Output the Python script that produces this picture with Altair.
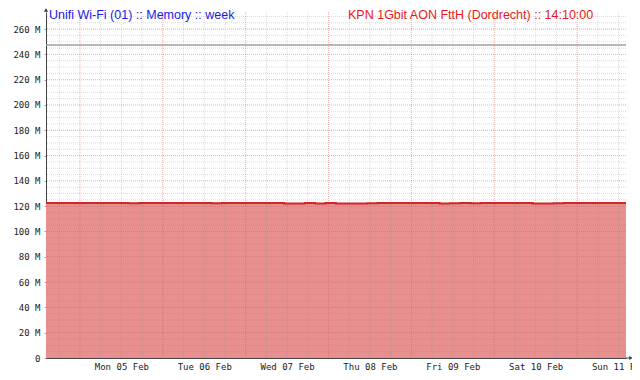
import altair as alt
import pandas as pd

# ---- data ----
title_left = "Unifi Wi-Fi (01) :: Memory :: week"
title_right = "KPN 1Gbit AON FttH (Dordrecht) ::  14:10:00"

start = "2024-02-04T14:10:00"
end = "2024-02-11T14:10:00"

# memory used (M), sampled every 3 hours from start
mem_used = [
    122.5, 122.5, 122.5, 122.5, 122.5, 122.5, 122.5, 122.5, 122.3, 122.5,
    122.5, 122.5, 122.5, 122.5, 122.5, 122.5, 122.3, 122.5, 122.5, 122.5,
    122.5, 122.5, 122.5, 122.1, 122.2, 122.5, 122.2, 122.5, 122.1, 122.2,
    122.1, 122.3, 122.5, 122.5, 122.5, 122.5, 122.5, 122.5, 122.2, 122.3,
    122.5, 122.3, 122.5, 122.5, 122.5, 122.5, 122.5, 122.2, 122.1, 122.3,
    122.5, 122.5, 122.5, 122.5, 122.5, 122.5, 122.5,
]
mem_total = [247.4]

day_labels = ["2024-02-05T12:00:00", "2024-02-06T12:00:00", "2024-02-07T12:00:00",
              "2024-02-08T12:00:00", "2024-02-09T12:00:00", "2024-02-10T12:00:00",
              "2024-02-11T12:00:00"]
day_major = ["2024-02-05", "2024-02-06", "2024-02-07", "2024-02-08",
             "2024-02-09", "2024-02-10", "2024-02-11"]
y_major = [0, 20, 40, 60, 80, 100, 120, 140, 160, 180, 200, 220, 240, 260]
y_minor = list(range(5, 275, 5))
y_top = 273.5

# ---- helpers ----
def ms(s):
    return int(pd.Timestamp(s, tz="UTC").value // 10**6)

t0, t1 = ms(start), ms(end)
times = [t0 + i * 3 * 3600 * 1000 for i in range(len(mem_used))]
df = pd.DataFrame({"t": times, "v": mem_used})
x_minor = list(range(ms("2024-02-04T18:00:00"), t1, 6 * 3600 * 1000))
x_major = [ms(d) for d in day_major]
label_vals = [ms(d) for d in day_labels]

xscale = alt.Scale(type="utc", domain=[t0, t1], nice=False)
yscale = alt.Scale(domain=[0, y_top], nice=False, zero=True)

x_axis = alt.Axis(values=label_vals, labelExpr="utcFormat(datum.value, '%a %d %b')",
                  title=None, grid=False, ticks=False, domainColor="#444",
                  labelFont="DejaVu Sans Mono", labelFontSize=9, labelColor="#222",
                  labelPadding=4, labelFlush=False, labelOverlap=False)
y_axis = alt.Axis(values=y_major, labelExpr="datum.value == 0 ? '0' : datum.value + ' M'",
                  title=None, grid=False, tickSize=2, tickColor="#F08080",
                  domainColor="#444", labelFont="DejaVu Sans Mono", labelFontSize=9,
                  labelColor="#222", labelPadding=4, labelOverlap=False, labelFlush=False)

X = lambda: alt.X("t:T", scale=xscale, axis=x_axis)
Y = lambda: alt.Y("v:Q", scale=yscale, axis=y_axis)

area = alt.Chart(df).mark_area(color="#E89090", interpolate="step-after").encode(x=X(), y=Y())

grid_minor_y = alt.Chart(pd.DataFrame({"v": y_minor})).mark_rule(
    color="#808080", opacity=0.28, strokeDash=[1, 1], strokeWidth=1).encode(y=Y())
grid_major_y = alt.Chart(pd.DataFrame({"v": y_major})).mark_rule(
    color="#FF4040", opacity=0.25, strokeDash=[1, 1], strokeWidth=1).encode(y=Y())
grid_minor_x = alt.Chart(pd.DataFrame({"t": x_minor})).mark_rule(
    color="#808080", opacity=0.28, strokeDash=[1, 1], strokeWidth=1).encode(x=X())
grid_major_x = alt.Chart(pd.DataFrame({"t": x_major})).mark_rule(
    color="#FF4040", opacity=0.25, strokeDash=[1, 1], strokeWidth=1).encode(x=X())

total = alt.Chart(pd.DataFrame({"v": mem_total})).mark_rule(
    color="#A0A0A0", strokeWidth=1.5).encode(y=Y())

line = alt.Chart(df).mark_line(color="#D42424", strokeWidth=2,
                               interpolate="step-after").encode(x=X(), y=Y())

# axis arrows
y_ext = alt.Chart(pd.DataFrame({"a": [0]})).mark_rule(color="#444").encode(
    x=alt.value(0), y=alt.value(-3), y2=alt.value(0))
y_arrow = alt.Chart(pd.DataFrame({"a": [0]})).mark_point(
    shape="triangle-up", filled=True, size=18, color="#444", opacity=1).encode(
    x=alt.value(0), y=alt.value(-2))
x_ext = alt.Chart(pd.DataFrame({"a": [0]})).mark_rule(color="#444").encode(
    x=alt.value(580), x2=alt.value(585), y=alt.value(346))
x_arrow = alt.Chart(pd.DataFrame({"a": [0]})).mark_point(
    shape="triangle-right", filled=True, size=18, color="#444", opacity=1).encode(
    x=alt.value(585), y=alt.value(346))

t_left = alt.Chart(pd.DataFrame({"s": [title_left]})).mark_text(
    align="left", baseline="middle", font="Liberation Sans", fontSize=12.5, color="#1A1AE6"
).encode(text="s:N", x=alt.value(3), y=alt.value(3))
t_right = alt.Chart(pd.DataFrame({"s": [title_right]})).mark_text(
    align="left", baseline="middle", font="Liberation Sans", fontSize=12.5, color="#E61A1A"
).encode(text="s:N", x=alt.value(302), y=alt.value(3))

chart = alt.layer(
    area, grid_minor_y, grid_minor_x, grid_major_y, grid_major_x, total, line,
    y_ext, y_arrow, x_ext, x_arrow, t_left, t_right
).properties(
    width=580, height=346,
    padding={"left": 38, "top": 4, "right": 6, "bottom": 14},
    autosize=alt.AutoSizeParams(type="none"),
    background="white",
).configure_view(stroke=None)

chart.save("out.html", embed_options={"renderer": "svg", "actions": False})
